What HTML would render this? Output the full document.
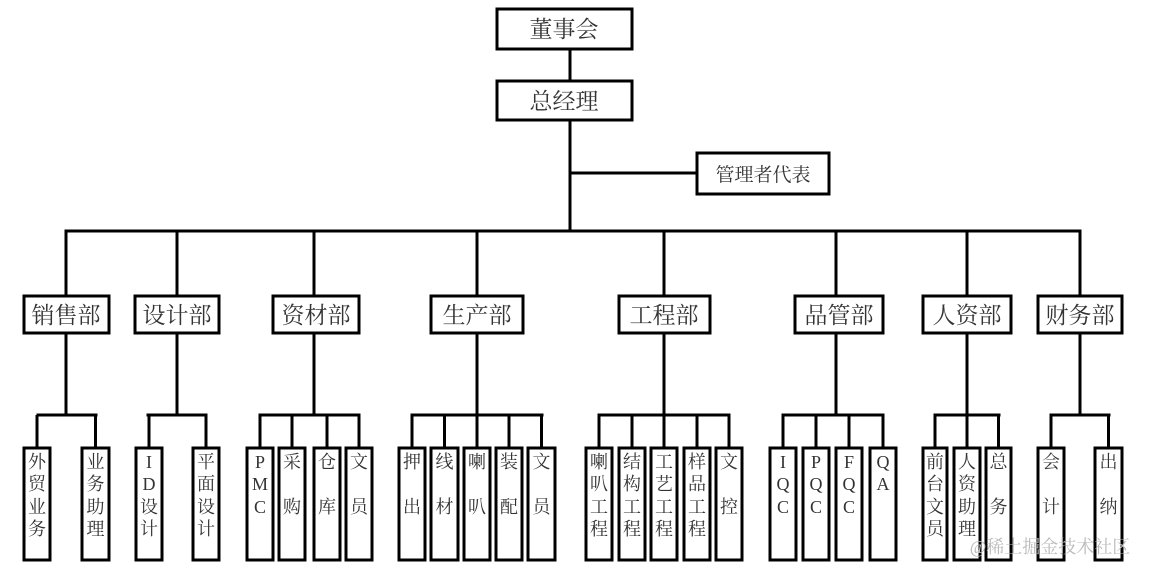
<!DOCTYPE html>
<html><head><meta charset="utf-8"><style>
html,body{margin:0;padding:0;background:#fff;}
svg{display:block;}
text{font-family:"Liberation Serif","Noto Serif CJK SC",serif;fill:#333;}
</style></head><body>
<svg width="1149" height="576" viewBox="0 0 1149 576" xmlns="http://www.w3.org/2000/svg">
<g stroke="#000" stroke-width="3" fill="none">
<!-- top -->
<rect x="497" y="9" width="135" height="40" fill="#fff"/>
<rect x="497" y="81" width="135" height="39" fill="#fff"/>
<rect x="697" y="153" width="132" height="41" fill="#fff"/>
<line x1="570" y1="49" x2="570" y2="81"/>
<line x1="570" y1="120" x2="570" y2="231"/>
<line x1="570" y1="173" x2="697" y2="173"/>
<line x1="64.5" y1="231" x2="1081.5" y2="231"/>
<!-- dept verticals -->
<line x1="66" y1="231" x2="66" y2="296"/>
<line x1="177" y1="231" x2="177" y2="296"/>
<line x1="314" y1="231" x2="314" y2="296"/>
<line x1="477" y1="231" x2="477" y2="296"/>
<line x1="664" y1="231" x2="664" y2="296"/>
<line x1="836" y1="231" x2="836" y2="296"/>
<line x1="967" y1="231" x2="967" y2="296"/>
<line x1="1080" y1="231" x2="1080" y2="296"/>
<!-- dept boxes -->
<rect x="24" y="296" width="85" height="37" fill="#fff"/>
<rect x="135" y="296" width="84" height="37" fill="#fff"/>
<rect x="273" y="296" width="86" height="37" fill="#fff"/>
<rect x="431" y="296" width="92" height="37" fill="#fff"/>
<rect x="619" y="296" width="91" height="37" fill="#fff"/>
<rect x="795" y="296" width="88" height="37" fill="#fff"/>
<rect x="923" y="296" width="88" height="37" fill="#fff"/>
<rect x="1038" y="296" width="84" height="37" fill="#fff"/>
<!-- dept down -->
<line x1="66" y1="333" x2="66" y2="415"/>
<line x1="177" y1="333" x2="177" y2="415"/>
<line x1="314" y1="333" x2="314" y2="415"/>
<line x1="477" y1="333" x2="477" y2="415"/>
<line x1="664" y1="333" x2="664" y2="415"/>
<line x1="836" y1="333" x2="836" y2="415"/>
<line x1="967" y1="333" x2="967" y2="415"/>
<line x1="1080" y1="333" x2="1080" y2="415"/>
<!-- sub bars -->
<line x1="36.5" y1="415" x2="97.5" y2="415"/>
<line x1="146.5" y1="415" x2="207.5" y2="415"/>
<line x1="258.5" y1="415" x2="360.5" y2="415"/>
<line x1="410.5" y1="415" x2="543.5" y2="415"/>
<line x1="597.5" y1="415" x2="730.5" y2="415"/>
<line x1="781.5" y1="415" x2="884.5" y2="415"/>
<line x1="933.5" y1="415" x2="1000.5" y2="415"/>
<line x1="1049.5" y1="415" x2="1110.5" y2="415"/>
</g>
<g id="subs" stroke="#000" stroke-width="3" fill="#fff"></g>
<g id="txt" font-size="23" text-anchor="middle">
<text x="564" y="37">董事会</text>
<text x="564" y="109">总经理</text>
<text x="763" y="181" font-size="19">管理者代表</text>
<text x="66" y="323">销售部</text>
<text x="177" y="323">设计部</text>
<text x="316" y="323">资材部</text>
<text x="477" y="323">生产部</text>
<text x="664" y="323">工程部</text>
<text x="839" y="323">品管部</text>
<text x="967" y="323">人资部</text>
<text x="1080" y="323">财务部</text>
</g>
<g id="stxt" font-size="18" text-anchor="middle"></g>
<text x="1050" y="553" font-size="18" text-anchor="middle" style="fill:#bbb">@稀土掘金技术社区</text>
<script>
var S=[
[24,50,["外","贸","业","务"]],[82,109,["业","务","助","理"]],
[136,162,["I","D","设","计"]],[193,219,["平","面","设","计"]],
[247,273,["P","M","C"]],[279,305,["采","","购"]],[314,340,["仓","","库"]],[346,372,["文","","员"]],
[399,425,["押","","出"]],[431,458,["线","","材"]],[464,490,["喇","","叭"]],[496,522,["装","","配"]],[528,555,["文","","员"]],
[586,612,["喇","叭","工","程"]],[619,645,["结","构","工","程"]],[651,677,["工","艺","工","程"]],[684,710,["样","品","工","程"]],[716,742,["文","","控"]],
[770,796,["I","Q","C"]],[803,829,["P","Q","C"]],[836,862,["F","Q","C"]],[870,896,["Q","A"]],
[923,947,["前","台","文","员"]],[954,980,["人","资","助","理"]],[986,1011,["总","","务"]],
[1038,1064,["会","","计"]],[1095,1122,["出","","纳"]]];
var ns="http://www.w3.org/2000/svg",g=document.getElementById("subs"),t=document.getElementById("stxt");
var ys=[468,490,513,535];
S.forEach(function(s){
 var cx=(s[0]+s[1])/2;
 var l=document.createElementNS(ns,"line");l.setAttribute("x1",cx);l.setAttribute("x2",cx);l.setAttribute("y1",415);l.setAttribute("y2",448);g.appendChild(l);
 var r=document.createElementNS(ns,"rect");r.setAttribute("x",s[0]);r.setAttribute("y",448);r.setAttribute("width",s[1]-s[0]);r.setAttribute("height",112);g.appendChild(r);
 s[2].forEach(function(c,i){if(!c)return;var e=document.createElementNS(ns,"text");e.setAttribute("x",cx);e.setAttribute("y",ys[i]);e.textContent=c;t.appendChild(e);});
});
</script>
</svg>
</body></html>
